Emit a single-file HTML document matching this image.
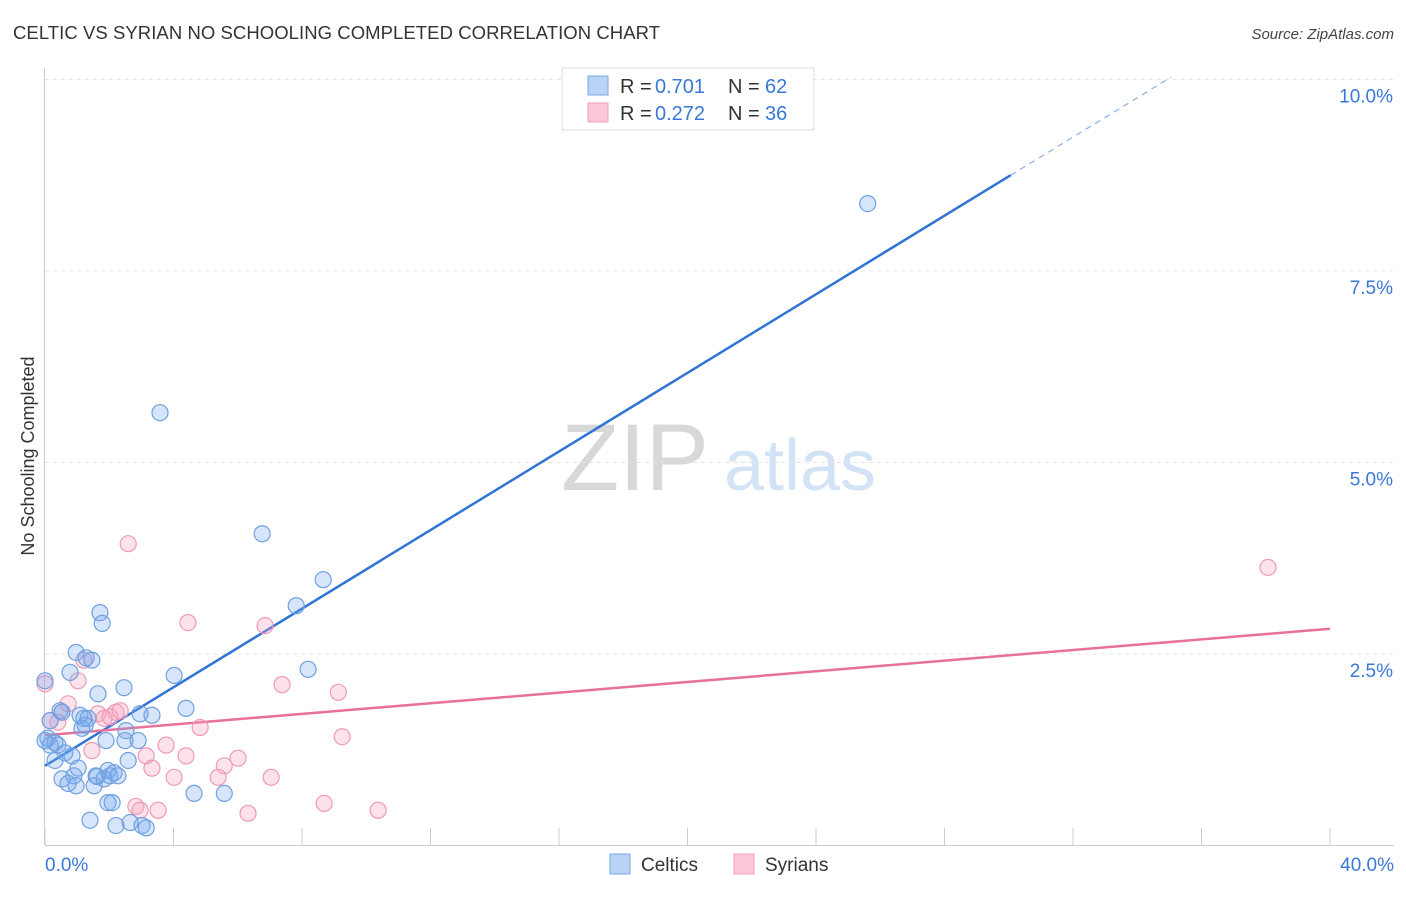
<!DOCTYPE html>
<html><head><meta charset="utf-8"><style>
body{margin:0;background:#fff;font-family:"Liberation Sans",sans-serif;}
svg text{font-family:"Liberation Sans",sans-serif;}
</style></head><body>
<svg id="chart" width="1406" height="892" viewBox="0 0 1406 892">
<text x="13" y="39" font-size="18.5" fill="#333" textLength="647">CELTIC VS SYRIAN NO SCHOOLING COMPLETED CORRELATION CHART</text>
<text x="1394" y="39" font-size="15" fill="#444" font-style="italic" text-anchor="end">Source: ZipAtlas.com</text>
<text transform="translate(34,456) rotate(-90)" font-size="18" fill="#333" text-anchor="middle">No Schooling Completed</text>
<g>
<text x="635" y="490" font-size="95" fill="#d8d8d8" font-family="Liberation Serif" text-anchor="middle">ZIP</text>
<text x="800" y="490" font-size="72" fill="#d3e3f6" text-anchor="middle">atlas</text>
</g>
<g id="grid"></g><g id="axes"></g><g id="lines"></g><g id="pts"></g>
<g>
<rect x="562" y="68" width="252" height="62" fill="#fff" stroke="#ddd"/>
<rect x="588" y="76" width="20" height="19" fill="#b8d3f5" stroke="#7aa8e6"/>
<rect x="588" y="103" width="20" height="19" fill="#fbc8d8" stroke="#f0a0b8"/>
<text x="620" y="93" font-size="20" fill="#333">R =</text>
<text x="655" y="93" font-size="20" fill="#3a78d8">0.701</text>
<text x="728" y="93" font-size="20" fill="#333">N =</text>
<text x="765" y="93" font-size="20" fill="#3a78d8">62</text>
<text x="620" y="120" font-size="20" fill="#333">R =</text>
<text x="655" y="120" font-size="20" fill="#3a78d8">0.272</text>
<text x="728" y="120" font-size="20" fill="#333">N =</text>
<text x="765" y="120" font-size="20" fill="#3a78d8">36</text>
</g>
<g>
<rect x="610" y="854" width="20" height="20" fill="#b8d3f5" stroke="#7aa8e6"/>
<text x="641" y="871" font-size="19" fill="#333">Celtics</text>
<rect x="734" y="854" width="20" height="20" fill="#fbc8d8" stroke="#f0a0b8"/>
<text x="765" y="871" font-size="19" fill="#333">Syrians</text>
</g>
</svg>
<script>
const blueX=[0,0.09,0.16,0.31,0.40,0.47,0.53,0.62,0.72,0.78,0.84,0.90,0.97,0.97,1.03,1.09,1.15,1.21,1.28,1.34,1.40,1.46,1.53,1.59,1.65,1.71,1.78,1.84,1.90,1.96,1.96,2.02,2.09,2.15,2.21,2.27,2.46,2.49,2.52,2.59,2.65,2.90,2.96,3.02,3.15,3.33,3.58,4.02,4.39,4.64,5.58,6.76,7.82,8.19,8.66,25.61,0,0.16,0.31,0.53,1.25,1.62];
const blueY=[2.15,1.40,1.31,1.34,1.31,1.76,0.87,1.21,0.81,2.26,1.17,0.91,0.78,2.52,1.01,1.70,1.53,1.66,2.45,1.66,0.33,2.42,0.78,0.91,1.98,3.04,2.90,0.87,1.37,0.56,0.98,0.91,0.56,0.95,0.26,0.91,2.06,1.37,1.50,1.11,0.30,1.37,1.72,0.26,0.23,1.70,5.65,2.22,1.79,0.68,0.68,4.07,3.13,2.30,3.47,8.38,1.37,1.63,1.11,1.74,1.57,0.90];
const pinkX=[0,0.16,0.40,0.53,0.72,1.03,1.21,1.46,1.65,1.84,2.02,2.21,2.34,2.59,2.83,2.96,3.15,3.33,3.52,3.77,4.02,4.39,4.45,4.83,5.39,5.58,6.01,6.32,6.85,7.04,7.38,8.69,9.13,9.25,10.37,38.07];
const pinkY=[2.11,1.63,1.61,1.74,1.85,2.15,2.42,1.24,1.72,1.66,1.68,1.74,1.76,3.94,0.51,0.46,1.17,1.01,0.46,1.31,0.89,1.17,2.91,1.54,0.89,1.04,1.14,0.42,2.87,0.89,2.10,0.55,2.00,1.42,0.46,3.63];
const yTicks=[2.5,5.0,7.5,10.0];
const xTicks=[0,4,8,12,16,20,24,28,32,36,40];
const blueFit=[1.04,0.2565];
const pinkFit=[1.44,0.03475];
const NS='http://www.w3.org/2000/svg';
const sx=v=>45+v*32.125, sy=v=>845.5-v*76.6;
function mk(t,a,p){const e=document.createElementNS(NS,t);for(const k in a)e.setAttribute(k,a[k]);p.appendChild(e);return e;}
const grid=document.getElementById('grid'),axes=document.getElementById('axes'),lines=document.getElementById('lines'),pts=document.getElementById('pts');
yTicks.forEach(v=>{
 const l=mk('line',{x1:45,x2:1394,y1:sy(v),y2:sy(v),stroke:'#e4e4e4','stroke-dasharray':'4,4'},grid);
 
 
 const t=mk('text',{x:1393,y:sy(v)+23,'font-size':19,fill:'#3a78d8','text-anchor':'end'},axes);t.textContent=v.toFixed(1)+'%';
 
 
});
const ya=mk('line',{x1:44.5,x2:44.5,y1:68,y2:845,stroke:'#ccc'},axes);


const xa=mk('line',{x1:45,x2:1394,y1:845.5,y2:845.5,stroke:'#ccc'},axes);


xTicks.forEach(v=>{
 const l=mk('line',{x1:sx(v),x2:sx(v),y1:828,y2:845,stroke:'#ccc'},axes);
 
 
});
[[0,'0.0%','start',45],[40,'40.0%','end',1394]].forEach(d=>{
 const t=mk('text',{x:d[3],y:871,'font-size':19,fill:'#3a78d8','text-anchor':d[2]},axes);t.textContent=d[1];
 
 
});
function pt(x,y,fill,stroke,name){
 const c=mk('circle',{cx:sx(x),cy:sy(y),r:8,fill:fill,stroke:stroke,'stroke-width':1.2},pts);
 
 
}
pinkX.forEach((x,i)=>pt(x,pinkY[i],'rgba(246,160,190,0.3)','#f09ab6','syrian-point'));
blueX.forEach((x,i)=>pt(x,blueY[i],'rgba(120,170,240,0.3)','#6fa0e0','celtic-point'));
const b1=mk('line',{x1:sx(0),y1:sy(blueFit[0]),x2:sx(30.06),y2:sy(blueFit[0]+blueFit[1]*30.06),stroke:'#2f74d6','stroke-width':2.5},lines);


const b2=mk('line',{x1:sx(30.06),y1:sy(blueFit[0]+blueFit[1]*30.06),x2:sx(35.05),y2:sy(blueFit[0]+blueFit[1]*35.05),stroke:'#8ab0e6','stroke-width':1.2,'stroke-dasharray':'6,5'},lines);


const p1=mk('line',{x1:sx(0),y1:sy(pinkFit[0]),x2:sx(40),y2:sy(pinkFit[0]+pinkFit[1]*40),stroke:'#e8709a','stroke-width':2.5},lines);


</script>
</body></html>
